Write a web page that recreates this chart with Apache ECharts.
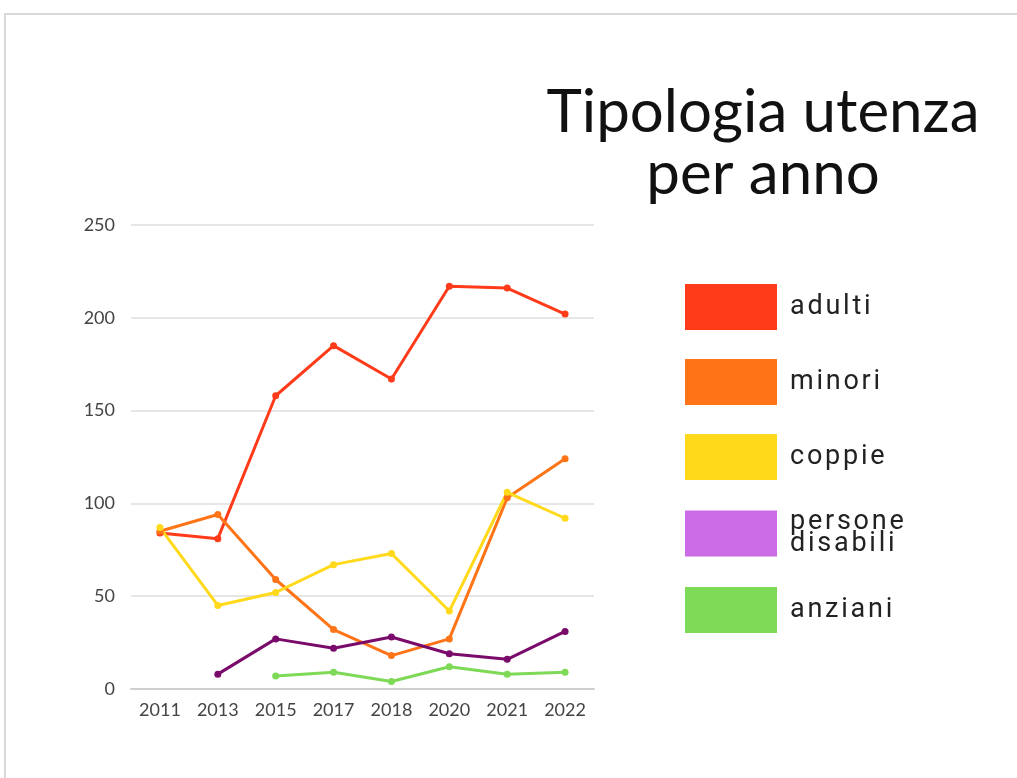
<!DOCTYPE html>
<html>
<head>
<meta charset="utf-8">
<script src="https://cdn.jsdelivr.net/npm/echarts@6/dist/echarts.min.js"></script>
<style>
  html, body { margin: 0; padding: 0; background: #fff; }
  #main { width: 1017px; height: 778px; }
</style>
</head>
<body>
<div id="main"></div>
<script>
// dati
const anni = ['2011', '2013', '2015', '2017', '2018', '2020', '2021', '2022'];
const adulti = [84, 81, 158, 185, 167, 217, 216, 202];
const minori = [85, 94, 59, 32, 18, 27, 103, 124];
const coppie = [87, 45, 52, 67, 73, 42, 106, 92];
const disabili = [null, 8, 27, 22, 28, 19, 16, 31];
const anziani = [null, null, 7, 9, 4, 12, 8, 9];

const chart = echarts.init(document.getElementById('main'));

function linea(name, data, color) {
    return {
        name: name,
        type: 'line',
        data: data,
        symbol: 'circle',
        symbolSize: 7,
        itemStyle: { color: color },
        lineStyle: { color: color, width: 3 },
        connectNulls: false
    };
}

const option = {
    animation: false,
    backgroundColor: '#fff',
    graphic: [
        {
            type: 'rect',
            shape: { x: 5, y: 14, width: 1100, height: 900 },
            style: { fill: 'none', stroke: '#d9d9d9', lineWidth: 2 }
        }
    ],
    title: {
        text: 'Tipologia utenza\nper anno',
        left: 758,
        top: 77,
        textAlign: 'center',
        textStyle: {
            fontFamily: 'Lato',
            fontWeight: 'normal',
            fontSize: 60,
            lineHeight: 62,
            color: '#111'
        }
    },
    legend: {
        orient: 'vertical',
        left: 680,
        top: 279,
        itemWidth: 92,
        itemHeight: 46,
        itemGap: 29,
        icon: 'rect',
        formatter: function (name) {
            const parts = name.split(' ');
            return parts.map(p => p.split('').join('\u200A')).join('\n');
        },
        textStyle: {
            fontFamily: 'Roboto',
            fontSize: 27,
            lineHeight: 22,
            color: '#222',
            padding: [4, 0, 0, 8]
        },
        data: [
            { name: 'adulti' },
            { name: 'minori' },
            { name: 'coppie' },
            { name: 'persone disabili', itemStyle: { color: '#cb6ce6' } },
            { name: 'anziani' }
        ]
    },
    grid: {
        left: 131,
        width: 463,
        top: 225,
        bottom: 89,
        containLabel: false
    },
    xAxis: {
        type: 'category',
        data: anni,
        boundaryGap: true,
        axisTick: { show: false },
        axisLine: { lineStyle: { color: '#cfcfcf', width: 2 } },
        axisLabel: {
            fontFamily: 'Lato',
            fontSize: 18,
            color: '#444',
            margin: 12
        }
    },
    yAxis: {
        type: 'value',
        min: 0,
        max: 250,
        interval: 50,
        axisLine: { show: false },
        axisTick: { show: false },
        splitLine: { lineStyle: { color: '#e6e6e6', width: 2 } },
        axisLabel: {
            fontFamily: 'Lato',
            fontSize: 18,
            color: '#444',
            margin: 16
        }
    },
    series: [
        linea('adulti', adulti, '#ff3b1a'),
        linea('minori', minori, '#ff7417'),
        linea('coppie', coppie, '#ffd91a'),
        linea('persone disabili', disabili, '#7a0b6b'),
        linea('anziani', anziani, '#7ed957')
    ]
};

chart.setOption(option);
</script>
</body>
</html>
